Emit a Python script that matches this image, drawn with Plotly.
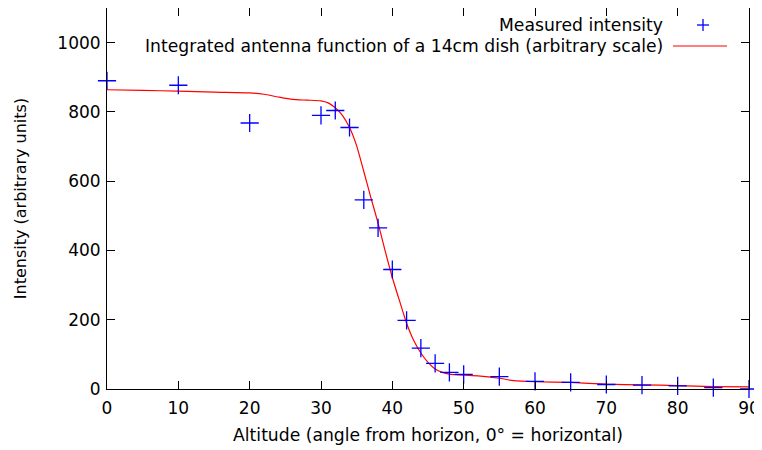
import plotly.graph_objects as go

# Measured data
alt_meas = [0, 10, 20, 30, 32, 34, 36, 38, 40, 42, 44, 46, 48, 50, 55, 60, 65, 70, 75, 80, 85, 90]
int_meas = [890, 877, 768, 790, 804, 755, 546, 465, 345, 198, 118, 74, 48, 42, 36, 22, 19, 13, 11, 9, 4, 0]

# Integrated antenna function
alt_model = [0, 5, 10, 15, 20, 22, 24, 26, 28, 30, 31, 32, 33, 34, 35, 36, 37, 38, 39, 40,
             41, 42, 43, 44, 45, 46, 47, 48, 50, 52, 55, 57, 60, 65, 70, 75, 80, 85, 90]
int_model = [864, 862, 860, 857, 855, 851, 843, 836, 834, 832, 826, 812, 790, 755, 702, 628, 552, 479, 398, 322,
             255, 190, 140, 104, 77, 58, 48, 43, 40, 38, 31, 24, 21, 19, 14, 12, 10, 7, 6]

x_ticks = [0, 10, 20, 30, 40, 50, 60, 70, 80, 90]
y_ticks = [0, 200, 400, 600, 800, 1000]

FONT = "DejaVu Sans"

fig = go.Figure()
fig.add_trace(go.Scatter(
    x=alt_model, y=int_model, mode="lines", line=dict(color="#ff0000", width=1.2, shape="spline", smoothing=0.6),
    name="Integrated antenna function of a 14cm dish (arbitrary scale)", showlegend=False, cliponaxis=False))
fig.add_trace(go.Scatter(
    x=alt_meas, y=int_meas, mode="markers",
    marker=dict(symbol="cross-thin", size=13, line=dict(color="#0000ff", width=1.3)),
    name="Measured intensity", showlegend=False, cliponaxis=False))

axis_common = dict(showline=True, linecolor="black", linewidth=1, mirror="ticks", ticks="inside",
                   ticklen=8, tickcolor="black", showgrid=False, zeroline=False, automargin=False,
                   ticklabeloverflow="allow",
                   tickfont=dict(family=FONT, size=17, color="black"))
fig.update_xaxes(range=[0, 90], tickvals=x_ticks, ticklabelstandoff=4, **axis_common,
                 title=dict(text="Altitude (angle from horizon, 0° = horizontal)",
                            font=dict(family=FONT, size=17.2, color="black"), standoff=11))
fig.update_yaxes(range=[0, 1100], tickvals=y_ticks, ticklabelstandoff=2, **axis_common,
                 title=dict(text="Intensity (arbitrary units)",
                            font=dict(family=FONT, size=16, color="black"), standoff=26))

# custom gnuplot-style legend (text right-aligned, sample to the right)
PL, PR, PT, PB = 107, 749, 8, 389


def px(x):
    return (x - PL) / (PR - PL)


def py(y):
    return (PB - y) / (PB - PT)


LEG_FONT = dict(family=FONT, size=17.2, color="black")
fig.add_annotation(x=px(665), y=py(25), xref="paper", yref="paper", xanchor="right", yanchor="middle",
                   text="Measured intensity", showarrow=False, font=LEG_FONT)
fig.add_annotation(x=px(665), y=py(46), xref="paper", yref="paper", xanchor="right", yanchor="middle",
                   text="Integrated antenna function of a 14cm dish (arbitrary scale)", showarrow=False,
                   font=LEG_FONT)
fig.add_shape(type="line", xref="paper", yref="paper", x0=px(697), x1=px(709), y0=py(25), y1=py(25),
              line=dict(color="#0000ff", width=1.3))
fig.add_shape(type="line", xref="paper", yref="paper", x0=px(703), x1=px(703), y0=py(19), y1=py(31),
              line=dict(color="#0000ff", width=1.3))
fig.add_shape(type="line", xref="paper", yref="paper", x0=px(673), x1=px(727), y0=py(46), y1=py(46),
              line=dict(color="#ff0000", width=1.2))

# page body has an 8px margin, so the figure is shifted by 8px; size it to fill the 762x450 window
fig.update_layout(width=754, height=442, margin=dict(l=PL - 8, r=762 - PR, t=PT - 8, b=450 - PB),
                  plot_bgcolor="white", paper_bgcolor="white", showlegend=False)
fig.write_html("out.html")
